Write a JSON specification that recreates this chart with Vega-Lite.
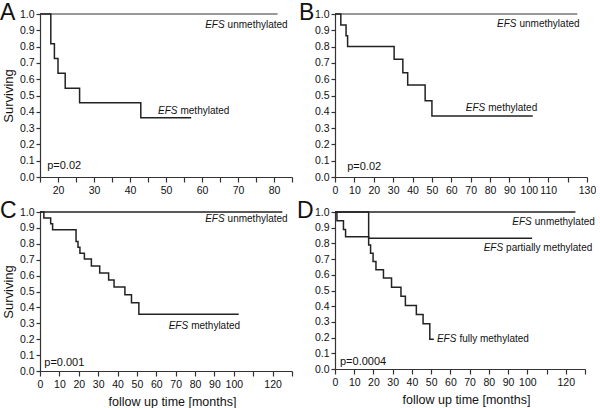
{
  "$schema": "https://vega.github.io/schema/vega-lite/v6.json",
  "padding": {"left": 0, "top": 2, "right": 0, "bottom": 0},
  "bounds": "flush",
  "columns": 2,
  "spacing": {"row": 35, "column": 43},
  "config": {
    "font": "Liberation Sans",
    "view": {"stroke": null},
    "axis": {"grid": false, "domainColor": "#333", "tickColor": "#333", "domainWidth": 1.2, "tickWidth": 1.2, "labelColor": "#111", "labelFontSize": 10.5, "titleFontSize": 13, "titleFontWeight": "normal", "titleColor": "#111", "labelOverlap": false, "labelFlush": false},
    "axisX": {"tickSize": 5, "labelPadding": 3, "titlePadding": 6, "titleFontSize": 12.5},
    "axisY": {"tickSize": 4, "labelPadding": 2, "titlePadding": 4},
    "title": {"fontSize": 23, "fontWeight": "normal", "anchor": "start", "frame": "group", "color": "#111", "baseline": "top", "offset": 0, "dy": 20},
    "text": {"color": "#111"}
  },
  "datasets": {
    "km": [
      {"panel": "A", "series": "unmethylated", "x": 15, "y": 1},
      {"panel": "A", "series": "unmethylated", "x": 81, "y": 1},
      {"panel": "A", "series": "methylated", "x": 15, "y": 1},
      {"panel": "A", "series": "methylated", "x": 18, "y": 0.818},
      {"panel": "A", "series": "methylated", "x": 19, "y": 0.727},
      {"panel": "A", "series": "methylated", "x": 20, "y": 0.636},
      {"panel": "A", "series": "methylated", "x": 22, "y": 0.545},
      {"panel": "A", "series": "methylated", "x": 26, "y": 0.455},
      {"panel": "A", "series": "methylated", "x": 43, "y": 0.364},
      {"panel": "A", "series": "methylated", "x": 57, "y": 0.364},
      {"panel": "B", "series": "unmethylated", "x": 0, "y": 1},
      {"panel": "B", "series": "unmethylated", "x": 125, "y": 1},
      {"panel": "B", "series": "methylated", "x": 0, "y": 1},
      {"panel": "B", "series": "methylated", "x": 3, "y": 0.933},
      {"panel": "B", "series": "methylated", "x": 5.7, "y": 0.867},
      {"panel": "B", "series": "methylated", "x": 6.5, "y": 0.8},
      {"panel": "B", "series": "methylated", "x": 30.5, "y": 0.723},
      {"panel": "B", "series": "methylated", "x": 35, "y": 0.64},
      {"panel": "B", "series": "methylated", "x": 37.5, "y": 0.564},
      {"panel": "B", "series": "methylated", "x": 46.5, "y": 0.468},
      {"panel": "B", "series": "methylated", "x": 50, "y": 0.375},
      {"panel": "B", "series": "methylated", "x": 102, "y": 0.375},
      {"panel": "C", "series": "unmethylated", "x": 0, "y": 1},
      {"panel": "C", "series": "unmethylated", "x": 125, "y": 1},
      {"panel": "C", "series": "methylated", "x": 0, "y": 1},
      {"panel": "C", "series": "methylated", "x": 2, "y": 0.963},
      {"panel": "C", "series": "methylated", "x": 5.5, "y": 0.926},
      {"panel": "C", "series": "methylated", "x": 6.5, "y": 0.889},
      {"panel": "C", "series": "methylated", "x": 18.6, "y": 0.815},
      {"panel": "C", "series": "methylated", "x": 19.6, "y": 0.778},
      {"panel": "C", "series": "methylated", "x": 20.6, "y": 0.741},
      {"panel": "C", "series": "methylated", "x": 22.9, "y": 0.704},
      {"panel": "C", "series": "methylated", "x": 26.5, "y": 0.66},
      {"panel": "C", "series": "methylated", "x": 30.8, "y": 0.616},
      {"panel": "C", "series": "methylated", "x": 35.4, "y": 0.572},
      {"panel": "C", "series": "methylated", "x": 38.2, "y": 0.528},
      {"panel": "C", "series": "methylated", "x": 43.8, "y": 0.48},
      {"panel": "C", "series": "methylated", "x": 47.2, "y": 0.43},
      {"panel": "C", "series": "methylated", "x": 51, "y": 0.357},
      {"panel": "C", "series": "methylated", "x": 102.5, "y": 0.357},
      {"panel": "D", "series": "unmethylated", "x": 0, "y": 1},
      {"panel": "D", "series": "unmethylated", "x": 125, "y": 1},
      {"panel": "D", "series": "partially methylated", "x": 0, "y": 1},
      {"panel": "D", "series": "partially methylated", "x": 17.5, "y": 0.833},
      {"panel": "D", "series": "partially methylated", "x": 102.5, "y": 0.833},
      {"panel": "D", "series": "fully methylated", "x": 0, "y": 1},
      {"panel": "D", "series": "fully methylated", "x": 1, "y": 0.944},
      {"panel": "D", "series": "fully methylated", "x": 4.4, "y": 0.889},
      {"panel": "D", "series": "fully methylated", "x": 5.5, "y": 0.842},
      {"panel": "D", "series": "fully methylated", "x": 17.5, "y": 0.79},
      {"panel": "D", "series": "fully methylated", "x": 18.5, "y": 0.737},
      {"panel": "D", "series": "fully methylated", "x": 19.8, "y": 0.684},
      {"panel": "D", "series": "fully methylated", "x": 21.3, "y": 0.632},
      {"panel": "D", "series": "fully methylated", "x": 25.2, "y": 0.579},
      {"panel": "D", "series": "fully methylated", "x": 29.4, "y": 0.521},
      {"panel": "D", "series": "fully methylated", "x": 34.3, "y": 0.463},
      {"panel": "D", "series": "fully methylated", "x": 36.6, "y": 0.405},
      {"panel": "D", "series": "fully methylated", "x": 42.3, "y": 0.347},
      {"panel": "D", "series": "fully methylated", "x": 45.8, "y": 0.289},
      {"panel": "D", "series": "fully methylated", "x": 49.3, "y": 0.19},
      {"panel": "D", "series": "fully methylated", "x": 51.4, "y": 0.19}
    ],
    "labels": [
      {"panel": "A", "x": 66.7, "y": 0.933, "efs": "EFS", "rest": "unmethylated"},
      {"panel": "A", "x": 53.6, "y": 0.406, "efs": "EFS", "rest": "methylated"},
      {"panel": "B", "x": 94.4, "y": 0.937, "efs": "EFS", "rest": "unmethylated"},
      {"panel": "B", "x": 78.3, "y": 0.426, "efs": "EFS", "rest": "methylated"},
      {"panel": "C", "x": 96, "y": 0.957, "efs": "EFS", "rest": "unmethylated"},
      {"panel": "C", "x": 77.2, "y": 0.281, "efs": "EFS", "rest": "methylated"},
      {"panel": "D", "x": 103.1, "y": 0.936, "efs": "EFS", "rest": "unmethylated"},
      {"panel": "D", "x": 88.2, "y": 0.771, "efs": "EFS", "rest": "partially methylated"},
      {"panel": "D", "x": 63.9, "y": 0.193, "efs": "EFS", "rest": "fully methylated"}
    ],
    "pvals": [
      {"panel": "A", "x": 17, "y": 0.065, "text": "p=0.02"},
      {"panel": "B", "x": 6.3, "y": 0.061, "text": "p=0.02"},
      {"panel": "C", "x": 2.2, "y": 0.049, "text": "p=0.001"},
      {"panel": "D", "x": 2.6, "y": 0.042, "text": "p=0.0004"}
    ]
  },
  "concat": [
    {
      "width": 252, "height": 163,
      "title": {"text": "A", "dx": -40},
      "encoding": {
        "x": {"field": "x", "type": "quantitative", "scale": {"domain": [15, 85], "nice": false, "zero": false}, "axis": {"title": null, "values": [15,20,25,30,35,40,45,50,55,60,65,70,75,80,85], "labelExpr": "datum.value % 10 === 0 ? datum.label : ''"}},
        "y": {"field": "y", "type": "quantitative", "scale": {"domain": [0, 1], "nice": false}, "axis": {"title": "Surviving", "values": [0,0.1,0.2,0.3,0.4,0.5,0.6,0.7,0.8,0.9,1], "format": ".1f"}}
      },
      "layer": [
        {"data": {"name": "km"}, "transform": [{"filter": "datum.panel === 'A' && datum.series === 'unmethylated'"}], "mark": {"type": "line", "interpolate": "step-after", "stroke": "#777", "strokeWidth": 1.5}},
        {"data": {"name": "km"}, "transform": [{"filter": "datum.panel === 'A' && datum.series !== 'unmethylated'"}], "mark": {"type": "line", "interpolate": "step-after", "stroke": "#222", "strokeWidth": 1.5}, "encoding": {"detail": {"field": "series"}}},
        {"data": {"name": "labels"}, "transform": [{"filter": "datum.panel === 'A'"}], "mark": {"type": "text", "align": "right", "baseline": "middle", "fontStyle": "italic", "fontSize": 10, "dx": -1.5}, "encoding": {"text": {"field": "efs"}}},
        {"data": {"name": "labels"}, "transform": [{"filter": "datum.panel === 'A'"}], "mark": {"type": "text", "align": "left", "baseline": "middle", "fontSize": 10, "dx": 1.5}, "encoding": {"text": {"field": "rest"}}},
        {"data": {"name": "pvals"}, "transform": [{"filter": "datum.panel === 'A'"}], "mark": {"type": "text", "align": "left", "baseline": "middle", "fontSize": 11}, "encoding": {"text": {"field": "text"}}}
      ]
    },
    {
      "width": 252, "height": 163,
      "title": {"text": "B", "dx": -36},
      "encoding": {
        "x": {"field": "x", "type": "quantitative", "scale": {"domain": [0, 130], "nice": false}, "axis": {"title": null, "values": [0,10,20,30,40,50,60,70,80,90,100,110,120,130], "labelExpr": "datum.value === 120 ? '' : datum.label"}},
        "y": {"field": "y", "type": "quantitative", "scale": {"domain": [0, 1], "nice": false}, "axis": {"title": null, "values": [0,0.1,0.2,0.3,0.4,0.5,0.6,0.7,0.8,0.9,1], "format": ".1f"}}
      },
      "layer": [
        {"data": {"name": "km"}, "transform": [{"filter": "datum.panel === 'B' && datum.series === 'unmethylated'"}], "mark": {"type": "line", "interpolate": "step-after", "stroke": "#777", "strokeWidth": 1.5}},
        {"data": {"name": "km"}, "transform": [{"filter": "datum.panel === 'B' && datum.series !== 'unmethylated'"}], "mark": {"type": "line", "interpolate": "step-after", "stroke": "#222", "strokeWidth": 1.5}, "encoding": {"detail": {"field": "series"}}},
        {"data": {"name": "labels"}, "transform": [{"filter": "datum.panel === 'B'"}], "mark": {"type": "text", "align": "right", "baseline": "middle", "fontStyle": "italic", "fontSize": 10, "dx": -1.5}, "encoding": {"text": {"field": "efs"}}},
        {"data": {"name": "labels"}, "transform": [{"filter": "datum.panel === 'B'"}], "mark": {"type": "text", "align": "left", "baseline": "middle", "fontSize": 10, "dx": 1.5}, "encoding": {"text": {"field": "rest"}}},
        {"data": {"name": "pvals"}, "transform": [{"filter": "datum.panel === 'B'"}], "mark": {"type": "text", "align": "left", "baseline": "middle", "fontSize": 11}, "encoding": {"text": {"field": "text"}}}
      ]
    },
    {
      "width": 252, "height": 159,
      "title": {"text": "C", "dx": -40},
      "encoding": {
        "x": {"field": "x", "type": "quantitative", "scale": {"domain": [0, 130], "nice": false}, "axis": {"title": "follow up time [months]", "titleX": 132, "values": [0,10,20,30,40,50,60,70,80,90,100,110,120,130], "labelExpr": "datum.value === 110 || datum.value === 130 ? '' : datum.label"}},
        "y": {"field": "y", "type": "quantitative", "scale": {"domain": [0, 1], "nice": false}, "axis": {"title": "Surviving", "values": [0,0.1,0.2,0.3,0.4,0.5,0.6,0.7,0.8,0.9,1], "format": ".1f"}}
      },
      "layer": [
        {"data": {"name": "km"}, "transform": [{"filter": "datum.panel === 'C' && datum.series === 'unmethylated'"}], "mark": {"type": "line", "interpolate": "step-after", "stroke": "#222", "strokeWidth": 1.5}},
        {"data": {"name": "km"}, "transform": [{"filter": "datum.panel === 'C' && datum.series !== 'unmethylated'"}], "mark": {"type": "line", "interpolate": "step-after", "stroke": "#222", "strokeWidth": 1.5}, "encoding": {"detail": {"field": "series"}}},
        {"data": {"name": "labels"}, "transform": [{"filter": "datum.panel === 'C'"}], "mark": {"type": "text", "align": "right", "baseline": "middle", "fontStyle": "italic", "fontSize": 10, "dx": -1.5}, "encoding": {"text": {"field": "efs"}}},
        {"data": {"name": "labels"}, "transform": [{"filter": "datum.panel === 'C'"}], "mark": {"type": "text", "align": "left", "baseline": "middle", "fontSize": 10, "dx": 1.5}, "encoding": {"text": {"field": "rest"}}},
        {"data": {"name": "pvals"}, "transform": [{"filter": "datum.panel === 'C'"}], "mark": {"type": "text", "align": "left", "baseline": "middle", "fontSize": 11}, "encoding": {"text": {"field": "text"}}}
      ]
    },
    {
      "width": 250, "height": 157,
      "title": {"text": "D", "dx": -38},
      "encoding": {
        "x": {"field": "x", "type": "quantitative", "scale": {"domain": [0, 130], "nice": false}, "axis": {"title": "follow up time [months]", "titleX": 131, "values": [0,10,20,30,40,50,60,70,80,90,100,110,120,130], "labelExpr": "datum.value === 110 || datum.value === 130 ? '' : datum.label"}},
        "y": {"field": "y", "type": "quantitative", "scale": {"domain": [0, 1], "nice": false}, "axis": {"title": null, "values": [0,0.1,0.2,0.3,0.4,0.5,0.6,0.7,0.8,0.9,1], "format": ".1f"}}
      },
      "layer": [
        {"data": {"name": "km"}, "transform": [{"filter": "datum.panel === 'D' && datum.series === 'unmethylated'"}], "mark": {"type": "line", "interpolate": "step-after", "stroke": "#222", "strokeWidth": 1.5}},
        {"data": {"name": "km"}, "transform": [{"filter": "datum.panel === 'D' && datum.series !== 'unmethylated'"}], "mark": {"type": "line", "interpolate": "step-after", "stroke": "#222", "strokeWidth": 1.5}, "encoding": {"detail": {"field": "series"}}},
        {"data": {"name": "labels"}, "transform": [{"filter": "datum.panel === 'D'"}], "mark": {"type": "text", "align": "right", "baseline": "middle", "fontStyle": "italic", "fontSize": 10, "dx": -1.5}, "encoding": {"text": {"field": "efs"}}},
        {"data": {"name": "labels"}, "transform": [{"filter": "datum.panel === 'D'"}], "mark": {"type": "text", "align": "left", "baseline": "middle", "fontSize": 10, "dx": 1.5}, "encoding": {"text": {"field": "rest"}}},
        {"data": {"name": "pvals"}, "transform": [{"filter": "datum.panel === 'D'"}], "mark": {"type": "text", "align": "left", "baseline": "middle", "fontSize": 11}, "encoding": {"text": {"field": "text"}}}
      ]
    }
  ]
}
